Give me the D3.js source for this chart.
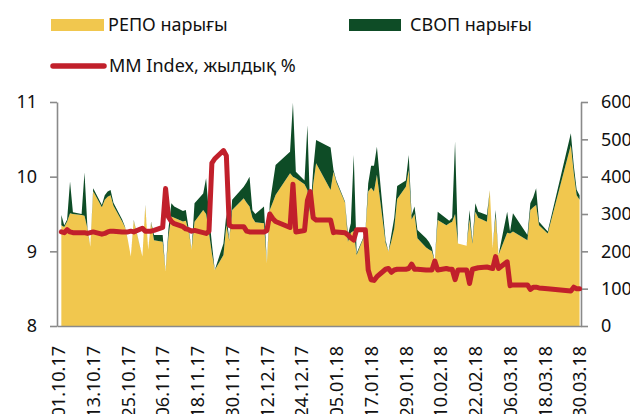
<!DOCTYPE html>
<html>
<head>
<meta charset="utf-8">
<script src="https://cdn.jsdelivr.net/npm/d3@7"></script>
<style>
  body { margin: 0; background: #fff; }
  svg { display: block; font-family: "Noto Sans", sans-serif; }
</style>
</head>
<body>
<svg id="chart" width="630" height="414"></svg>
<script>
// Trading days (dd.mm.yy)
const dates = [
  "02.10.17","03.10.17","04.10.17","05.10.17","06.10.17",
  "09.10.17","10.10.17","11.10.17","12.10.17","13.10.17",
  "16.10.17","17.10.17","18.10.17","19.10.17","20.10.17",
  "23.10.17","24.10.17","25.10.17","26.10.17","27.10.17",
  "30.10.17","31.10.17","01.11.17","02.11.17","03.11.17",
  "06.11.17","07.11.17","08.11.17","09.11.17","10.11.17",
  "13.11.17","14.11.17","15.11.17","16.11.17","17.11.17",
  "20.11.17","21.11.17","22.11.17","23.11.17","24.11.17",
  "27.11.17","28.11.17","29.11.17","30.11.17",
  "04.12.17","05.12.17","06.12.17","07.12.17","08.12.17",
  "11.12.17","12.12.17","13.12.17","14.12.17","15.12.17",
  "20.12.17","21.12.17","22.12.17",
  "25.12.17","26.12.17","27.12.17","28.12.17","29.12.17",
  "03.01.18","04.01.18","05.01.18",
  "08.01.18","09.01.18","10.01.18","11.01.18","12.01.18",
  "15.01.18","16.01.18","17.01.18","18.01.18","19.01.18",
  "22.01.18","23.01.18","24.01.18","25.01.18","26.01.18",
  "29.01.18","30.01.18","31.01.18","01.02.18","02.02.18",
  "05.02.18","06.02.18","07.02.18","08.02.18","09.02.18",
  "12.02.18","13.02.18","14.02.18","15.02.18","16.02.18",
  "19.02.18","20.02.18","21.02.18","22.02.18","23.02.18",
  "26.02.18","27.02.18","28.02.18","01.03.18","02.03.18",
  "05.03.18","06.03.18","07.03.18",
  "12.03.18","13.03.18","14.03.18","15.03.18","16.03.18",
  "19.03.18",
  "27.03.18","28.03.18","29.03.18","30.03.18"
];

// РЕПО нарығы, bn (right axis)
const repo = [
  270, 265, 280, 302, 300,
  297, 295, 262, 212, 361,
  318, 338, 346, 350, 322,
  280, 264, 230, 186, 282,
  186, 322, 204, 277, 230,
  226, 146, 240, 293, 290,
  280, 282, 252, 204, 279,
  311, 300, 250, 195, 150,
  190, 270, 228, 311,
  342, 330, 320, 290, 278,
  275, 168, 311, 330, 351,
  409, 400, 396,
  380, 364, 295, 380, 436,
  364, 413, 385,
  330, 226, 250, 255, 190,
  248, 360, 370, 360, 405,
  222, 199, 228, 262, 340,
  373, 418, 285, 300, 235,
  210, 205, 200, 172, 284,
  270, 275, 279, 300, 221,
  215, 285, 220, 306, 290,
  279, 364, 208, 295, 190,
  250, 248, 253,
  230, 311, 318, 324, 270,
  248,
  485, 410, 350, 338
];

// СВОП нарығы, bn (right axis, stacked on top of РЕПО)
const swap = [
  27, 5, 5, 85, 5,
  3, 116, 4, 0, 8,
  6, 12, 14, 14, 8,
  5, 2, 0, 0, 2,
  0, 2, 0, 2, 14,
  18, 0, 20, 36, 30,
  28, 29, 8, 0, 50,
  44, 96, 50, 25, 0,
  31, 30, 2, 27,
  31, 55, 80, 20, 22,
  45, 0, 18, 50, 80,
  58, 198, 17,
  10, 174, 5, 40, 62,
  114, 5, 5,
  3, 18, 25, 203, 5,
  2, 22, 59, 69, 75,
  8, 0, 17, 28, 35,
  17, 40, 12, 20, 22,
  25, 20, 10, 0, 22,
  18, 7, 11, 194, 0,
  0, 26, 5, 23, 16,
  18, 0, 0, 16, 0,
  56, 5, 49,
  14, 18, 27, 45, 9,
  5,
  31, 20, 15, 12
];

// MM Index, жылдық % (left axis)
const mmIndex = [
  9.26, 9.25, 9.29, 9.26, 9.25,
  9.25, 9.25, 9.24, 9.25, 9.26,
  9.23, 9.24, 9.26, 9.27, 9.27,
  9.26, 9.26, 9.26, 9.27, 9.26,
  9.31, 9.27, 9.27, 9.27, 9.28,
  9.32, 9.84, 9.46, 9.40, 9.37,
  9.33, 9.30, 9.29, 9.27, 9.28,
  9.25, 9.24, 9.27, 10.18, 10.24,
  10.35, 10.28, 9.35, 9.33,
  9.33, 9.27, 9.26, 9.26, 9.26,
  9.26, 9.28, 9.50, 9.44, 9.40,
  9.32, 9.90, 9.26,
  9.28, 9.68, 9.80, 9.45, 9.42,
  9.42, 9.25, 9.26,
  9.25, 9.22, 9.18, 9.15, 9.29,
  9.29, 8.75, 8.62, 8.61, 8.66,
  8.76, 8.77, 8.72, 8.75, 8.76,
  8.76, 8.77, 8.83, 8.76, 8.76,
  8.75, 8.75, 8.75, 8.87, 8.75,
  8.77, 8.76, 8.76, 8.62, 8.75,
  8.75, 8.57, 8.76, 8.77, 8.78,
  8.79, 8.78, 8.77, 8.93, 8.77,
  8.86, 8.54, 8.55,
  8.55, 8.49, 8.52, 8.52, 8.51,
  8.50,
  8.47, 8.52, 8.50, 8.50
];

const tickDates = [
  "01.10.17","13.10.17","25.10.17","06.11.17","18.11.17","30.11.17",
  "12.12.17","24.12.17","05.01.18","17.01.18","29.01.18","10.02.18",
  "22.02.18","06.03.18","18.03.18","30.03.18"
];
const leftTicks = [8, 9, 10, 11];
const rightTicks = [0, 100, 200, 300, 400, 500, 600];

const parse = d3.utcParse("%d.%m.%y");
const mid = s => d3.utcHour.offset(parse(s), 12);  // centre of the day

const svg = d3.select("#chart");

const plotLeft = 57, plotRight = 581, plotTop = 102, plotBottom = 326;
const x = d3.scaleUtc().domain([parse("01.10.17"), parse("31.03.18")]).range([plotLeft, plotRight]);
const yL = d3.scaleLinear().domain([8, 11]).range([plotBottom, plotTop]);
const yR = d3.scaleLinear().domain([0, 600]).range([plotBottom, plotTop]);

const rows = dates.map((d, i) => ({ date: mid(d), repo: repo[i], swap: swap[i], mm: mmIndex[i] }));

// stacked areas
const colors = { repo: "#F1C74E", swap: "#0E4C26" };
const layers = d3.stack().keys(["repo", "swap"])(rows);
const area = d3.area()
  .x(d => x(d.data.date))
  .y0(d => yR(d[0]))
  .y1(d => yR(d[1]));

svg.append("g").selectAll("path")
  .data(layers)
  .join("path")
  .attr("fill", d => colors[d.key])
  .attr("d", area);

// axes
const axisColor = "#8a8a8a";

const gL = svg.append("g")
  .attr("transform", `translate(${plotLeft},0)`)
  .call(d3.axisLeft(yL).tickValues(leftTicks).tickFormat(d3.format("d"))
    .tickSize(7).tickSizeOuter(0).tickPadding(13));

const gR = svg.append("g")
  .attr("transform", `translate(${plotRight},0)`)
  .call(d3.axisRight(yR).tickValues(rightTicks).tickFormat(d3.format("d"))
    .tickSize(7).tickSizeOuter(0).tickPadding(13));

const gB = svg.append("g")
  .attr("transform", `translate(0,${plotBottom})`)
  .call(d3.axisBottom(x).tickValues(tickDates.map(mid)).tickSize(0).tickSizeOuter(0)
    .tickFormat(d3.utcFormat("%d.%m.%y")));

gB.selectAll("text")
  .attr("transform", "rotate(-90)")
  .attr("text-anchor", "end")
  .attr("x", -20)
  .attr("y", 0)
  .attr("dy", "0.35em");

[gL, gR, gB].forEach(g => {
  g.select(".domain").attr("stroke", axisColor).attr("stroke-width", 1.6);
  g.selectAll(".tick line").attr("stroke", axisColor).attr("stroke-width", 1.6);
  g.selectAll("text").attr("font-size", "18px").attr("font-family", "Noto Sans").attr("fill", "#111");
});

// MM Index line
const line = d3.line()
  .x(d => x(d.date))
  .y(d => yL(d.mm));

svg.append("path")
  .datum(rows)
  .attr("fill", "none")
  .attr("stroke", "#C1202B")
  .attr("stroke-width", 5)
  .attr("stroke-linejoin", "round")
  .attr("stroke-linecap", "round")
  .attr("d", line);

// legend
const legend = svg.append("g").attr("font-size", "18px").attr("fill", "#111");

legend.append("rect").attr("x", 51).attr("y", 19).attr("width", 53).attr("height", 12).attr("fill", colors.repo);
legend.append("text").attr("x", 108).attr("y", 25).attr("dy", "0.35em").text("РЕПО нарығы");

legend.append("rect").attr("x", 349).attr("y", 19).attr("width", 52).attr("height", 12).attr("fill", colors.swap);
legend.append("text").attr("x", 410).attr("y", 25).attr("dy", "0.35em").text("СВОП нарығы");

legend.append("line").attr("x1", 53).attr("x2", 104).attr("y1", 66).attr("y2", 66)
  .attr("stroke", "#C1202B").attr("stroke-width", 5.5).attr("stroke-linecap", "round");
legend.append("text").attr("x", 109).attr("y", 66).attr("dy", "0.35em").text("MM Index, жылдық %");
</script>
</body>
</html>
